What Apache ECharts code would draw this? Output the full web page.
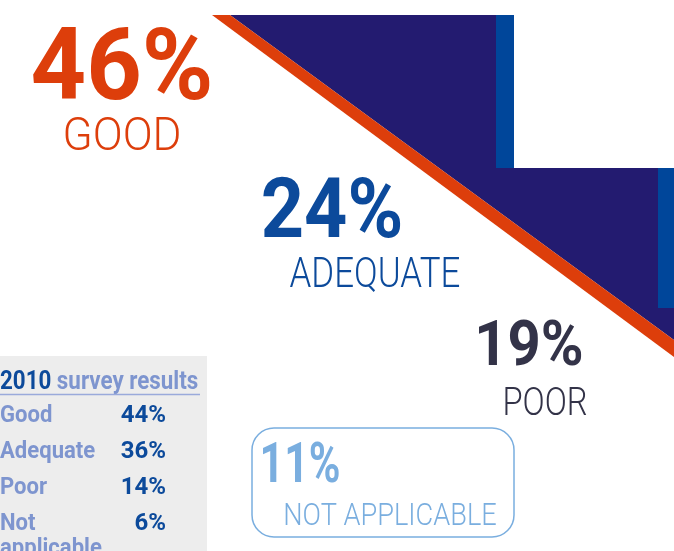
<!DOCTYPE html>
<html>
<head>
<meta charset="utf-8">
<script src="https://cdn.jsdelivr.net/npm/echarts@6/dist/echarts.min.js"></script>
<style>
  html, body { margin: 0; padding: 0; background: #fff; }
  #chart { width: 674px; height: 551px; }
</style>
</head>
<body>
<div id="chart"></div>
<script>
// survey results (current)
const categories = ['GOOD', 'ADEQUATE', 'POOR', 'NOT APPLICABLE']
const values = [46, 24, 19, 11]

// 2010 comparison table
const tableYear = '2010'
const tableTitle = 'survey results'
const tableLabels = ['Good', 'Adequate', 'Poor', 'Not\napplicable']
const tableValues = [44, 36, 14, 6]

// look of each callout: centre x, cap centre y for number and label
const callouts = [
  { color: '#dd3e0b', cx: 122, ny: 64, nSize: 101, nScale: 0.96, ly: 134, lSize: 46, lScale: 0.96 },
  { color: '#0c4a9b', cx: 332, ny: 208, nSize: 83, nScale: 0.91, lx: 375, ly: 272, lSize: 42, lScale: 0.83 },
  { color: '#333348', cx: 529, ny: 343, nSize: 63, nScale: 0.92, lx: 545, ly: 402, lSize: 38, lScale: 0.86 },
  { color: '#7aaedf', cx: 300, ny: 463, nSize: 55, nScale: 0.78, lx: 390, ly: 514, lSize: 32, lScale: 0.85 }
]

const FONT = 'Roboto, "Noto Sans", sans-serif'

// y is the centre of the capitals; canvas "middle" sits a bit higher
function text (x, y, str, size, weight, color, align, scaleX) {
  return {
    type: 'text',
    x: x,
    y: y + size * 0.1,
    scaleX: scaleX || 1,
    silent: true,
    style: {
      text: str,
      fontFamily: FONT,
      fontSize: size,
      fontWeight: weight,
      fill: color,
      align: align,
      verticalAlign: 'middle'
    }
  }
}

let elements = []

// staircase background
elements.push({
  type: 'polygon',
  shape: { points: [[230, 15], [496, 15], [496, 168], [658, 168], [658, 308], [674, 308], [674, 340]] },
  style: { fill: '#231b70' }
})
elements.push({ type: 'rect', shape: { x: 496, y: 15, width: 18, height: 153 }, style: { fill: '#00469a' } })
elements.push({ type: 'rect', shape: { x: 658, y: 168, width: 16, height: 140 }, style: { fill: '#00469a' } })
elements.push({
  type: 'polygon',
  shape: { points: [[212, 15], [230, 15], [674, 340], [674, 357]] },
  style: { fill: '#dd3e0b' }
})

// not applicable box
elements.push({
  type: 'rect',
  shape: { x: 252, y: 428, width: 262, height: 109, r: 22 },
  style: { fill: 'none', stroke: '#7aaedf', lineWidth: 1.5 }
})

categories.forEach((name, i) => {
  let c = callouts[i]
  elements.push(text(c.cx, c.ny, values[i] + '%', c.nSize, 'bold', c.color, 'center', c.nScale))
  elements.push(text(c.lx || c.cx, c.ly, name, c.lSize, 300, c.color, 'center', c.lScale))
})

// 2010 table
elements.push({ type: 'rect', shape: { x: 0, y: 356, width: 207, height: 195 }, style: { fill: '#ededed' } })
elements.push({
  type: 'text',
  x: 0,
  y: 380 + 2.6,
  scaleX: 0.86,
  style: {
    text: '{y|' + tableYear + '} {t|' + tableTitle + '}',
    fontFamily: FONT,
    fontSize: 26,
    fontWeight: 'bold',
    align: 'left',
    verticalAlign: 'middle',
    rich: {
      y: { fill: '#0c4a9b', fontFamily: FONT, fontSize: 26, fontWeight: 'bold' },
      t: { fill: '#7e95cf', fontFamily: FONT, fontSize: 26, fontWeight: 'bold' }
    }
  }
})
elements.push({
  type: 'line',
  shape: { x1: 0, y1: 394.5, x2: 200, y2: 394.5 },
  style: { stroke: '#9aaadb', lineWidth: 1.5 }
})
tableLabels.forEach((label, i) => {
  let y = 414 + i * 36
  let lines = label.split('\n')
  lines.forEach((ln, j) => {
    elements.push(text(0, y + j * 25, ln, 24, 'bold', '#7e95cf', 'left', 0.92))
  })
  elements.push(text(166, y, tableValues[i] + '%', 24, 'bold', '#0c4a9b', 'right', 1))
})

let chart = echarts.init(document.getElementById('chart'))
chart.setOption({
  backgroundColor: '#fff',
  animation: false,
  graphic: { elements: elements }
})
</script>
</body>
</html>
